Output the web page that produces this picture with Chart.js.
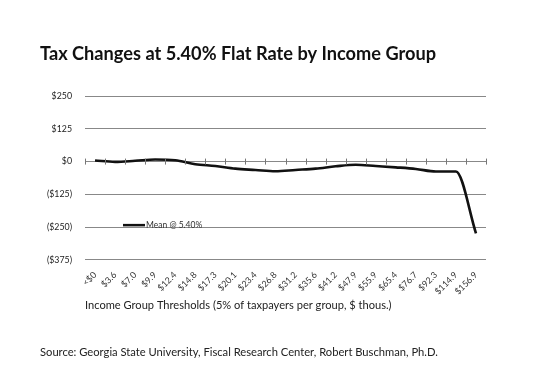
<!DOCTYPE html>
<html><head><meta charset="utf-8">
<script src="https://cdn.jsdelivr.net/npm/chart.js@4/dist/chart.umd.min.js"></script>
<style>html,body{margin:0;padding:0;background:#fff;}#wrap{width:534px;height:383px;position:relative;}</style>
</head><body><div id="wrap"><canvas id="c" width="534" height="383"></canvas></div>
<script>
const categories = ["<$0","$3.6","$7.0","$9.9","$12.4","$14.8","$17.3","$20.1","$23.4","$26.8","$31.2","$35.6","$41.2","$47.9","$55.9","$65.4","$76.7","$92.3","$114.9","$156.9"];
const meanValues = [4,-1,3,8,5,-10,-17,-27,-32,-37,-32,-27,-18,-12,-17,-22,-28,-38,-38,-274];
const yTicks = [250,125,0,-125,-250,-375];
const seriesName = "Mean @ 5.40%";

const fmt = v => v < 0 ? "($" + Math.abs(v) + ")" : "$" + v;

const extras = {
  id: 'extras',
  afterDatasetsDraw(chart) {
    const ctx = chart.ctx, xs = chart.scales.x, ys = chart.scales.y, ca = chart.chartArea;
    const y0 = ys.getPixelForValue(0);
    ctx.save();
    ctx.strokeStyle = '#777'; ctx.lineWidth = 1;
    for (let i = 0; i <= categories.length; i++) {
      const x = Math.round((xs.getPixelForValue(i - 0.5))) + 0.5;
      ctx.beginPath(); ctx.moveTo(x, y0 - 3); ctx.lineTo(x, y0 + 3); ctx.stroke();
    }
    // legend inside plot
    const lx = ca.left + 38, ly = ca.top + 129;
    ctx.strokeStyle = '#111'; ctx.lineWidth = 2.5;
    ctx.beginPath(); ctx.moveTo(lx, ly); ctx.lineTo(lx + 22, ly); ctx.stroke();
    ctx.fillStyle = '#333'; ctx.font = '8.5px Lato'; ctx.textBaseline = 'middle';
    ctx.fillText(seriesName, lx + 23, ly);
    ctx.restore();
  }
};

new Chart(document.getElementById('c'), {
  type: 'line',
  data: { labels: categories, datasets: [{ label: seriesName, data: meanValues, borderColor: '#111', borderWidth: 2.6, pointRadius: 0, tension: 0.3, cubicInterpolationMode: 'monotone', fill: false }] },
  options: {
    responsive: false, animation: false, devicePixelRatio: 1,
    layout: { padding: { left: 40, right: 48, top: 0, bottom: 0 } },
    plugins: {
      legend: { display: false },
      tooltip: { enabled: false },
      title: { display: true, text: 'Tax Changes at 5.40% Flat Rate by Income Group', align: 'start', color: '#111', font: { family: 'Lato', size: 18.2, weight: 'bold' }, padding: { top: 43.5, bottom: 30.8 } },
      subtitle: { display: true, position: 'bottom', text: 'Source: Georgia State University, Fiscal Research Center, Robert Buschman, Ph.D.', align: 'start', color: '#222', font: { family: 'Lato', size: 11.2 }, padding: { top: 0, bottom: 24.3 } }
    },
    scales: {
      x: {
        offset: true,
        grid: { display: false },
        border: { display: false },
        ticks: { minRotation: 45, maxRotation: 45, autoSkip: false, color: '#333', font: { family: 'Lato', size: 8.8 }, padding: 2 },
        title: { display: true, text: 'Income Group Thresholds (5% of taxpayers per group, $ thous.)', align: 'start', color: '#222', font: { family: 'Lato', size: 11.1 }, padding: { top: 4, bottom: 33 } },
        afterFit: s => { s.height = 85.5; }
      },
      y: {
        min: -375, max: 250,
        afterBuildTicks: s => { s.ticks = yTicks.map(v => ({ value: v })); },
        grid: { color: '#888', lineWidth: 1, drawTicks: false },
        border: { display: false },
        ticks: { callback: v => fmt(v), color: '#222', font: { family: 'Lato', size: 8.8 }, padding: 13 },
        afterFit: s => { s.width = 45; }
      }
    }
  },
  plugins: [extras]
});
</script></body></html>
